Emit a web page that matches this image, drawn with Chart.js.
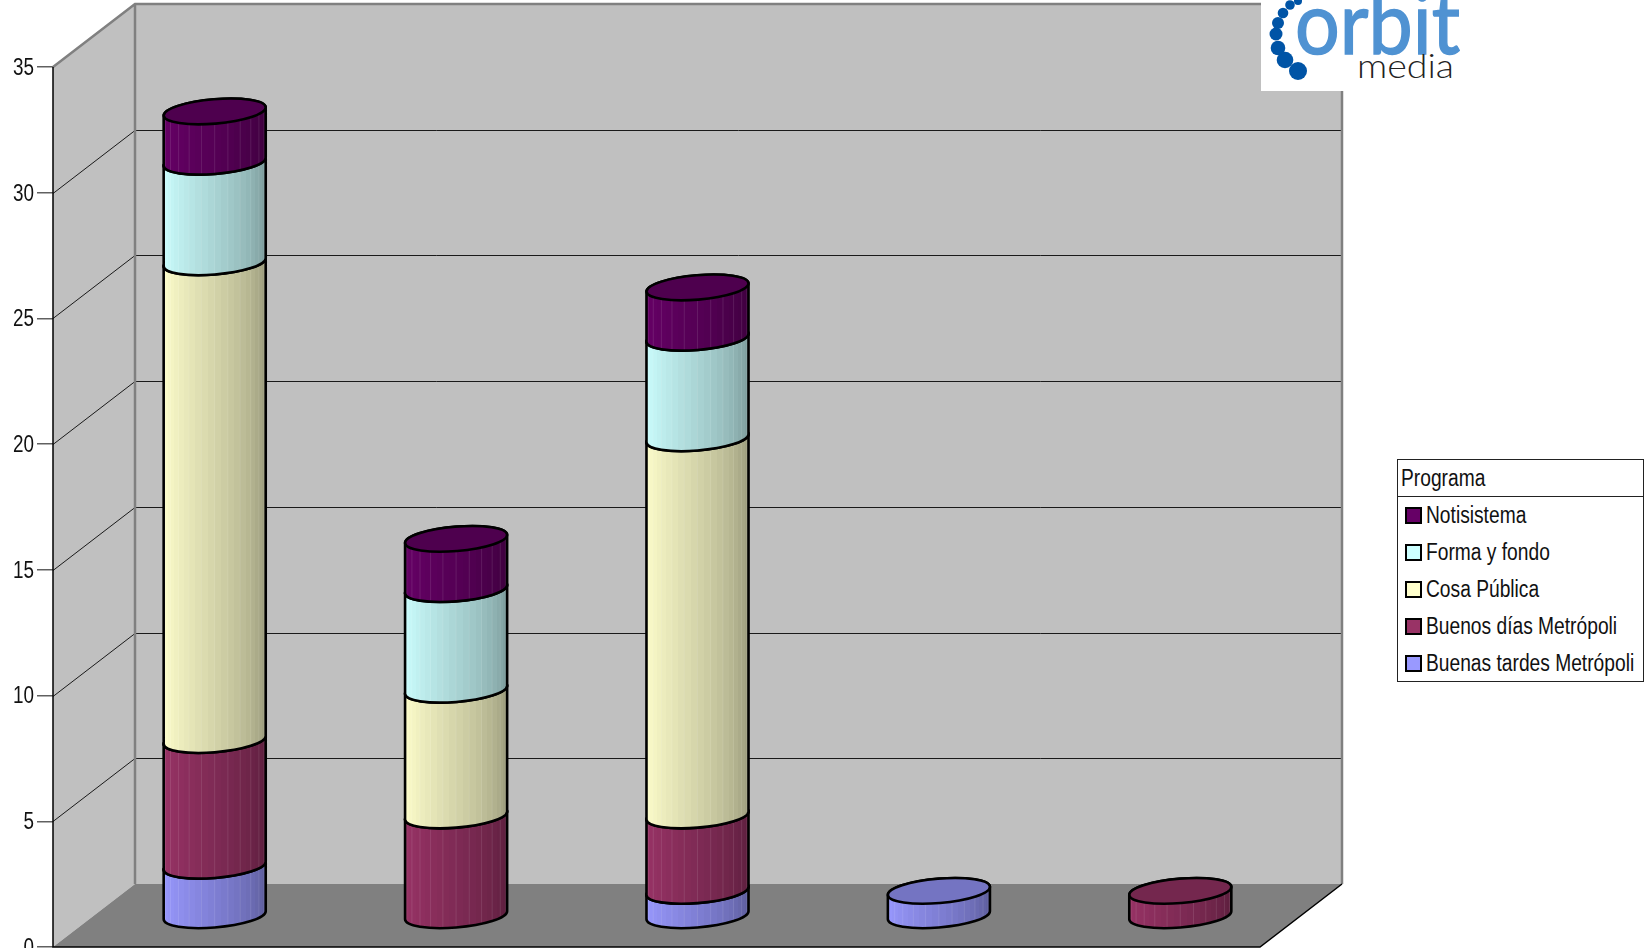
<!DOCTYPE html>
<html>
<head>
<meta charset="utf-8">
<title>Programa</title>
<script src="https://cdn.jsdelivr.net/npm/chart.js@4"></script>
<style>
    html, body { margin: 0; padding: 0; background: #fff; overflow: hidden; }
    #wrap { position: relative; width: 1647px; height: 948px; overflow: hidden; }
    canvas { position: absolute; left: 0; top: 0; }
    #logo { position: absolute; left: 1261px; top: 0; }
    #legend {
        position: absolute; left: 1397px; top: 459px; width: 247px; height: 223px;
        box-sizing: border-box; border: 1px solid #222; background: #fff;
        font: 23px "Liberation Sans", sans-serif; color: #111;
    }
    #legend .head { height: 37px; line-height: 37px; padding-left: 3px; border-bottom: 1px solid #222; box-sizing: border-box; }
    #legend .row { position: relative; height: 37px; line-height: 37px; padding-left: 28px; white-space: nowrap; }
    #legend .txt { display: inline-block; transform: scaleX(0.835); transform-origin: left center; }
    #legend .sw {
        position: absolute; left: 7px; top: 10px; width: 13px; height: 13px;
        border: 2px solid #000;
    }
</style>
</head>
<body>
<div id="wrap">
    <canvas id="chart" width="1647" height="948"></canvas>
    <svg id="logo" width="212" height="91" viewBox="0 0 212 91">
        <rect x="0" y="0" width="202" height="91" fill="#fff"></rect>
        <g fill="#0054a6">
            <circle cx="37" cy="71" r="9"></circle>
            <circle cx="24" cy="60" r="8.3"></circle>
            <circle cx="17" cy="48" r="7.3"></circle>
            <circle cx="15" cy="34" r="6.5"></circle>
            <circle cx="17" cy="23" r="6"></circle>
            <circle cx="22" cy="13" r="5.3"></circle>
            <circle cx="29" cy="5" r="4.8"></circle>
            <circle cx="37" cy="1" r="4"></circle>
        </g>
        <text x="34" y="54" font-family="Lato" font-size="87" fill="#4f92d2" stroke="#4f92d2" stroke-width="1.5" textLength="165" lengthAdjust="spacingAndGlyphs">orbit</text>
        <text x="96" y="78" font-family="Lato" font-weight="300" font-size="33" fill="#222" textLength="97" lengthAdjust="spacingAndGlyphs">media</text>
    </svg>
    <div id="legend"></div>
</div>
<script>
// --- Data ---
const categories = ['1', '2', '3', '4', '5'];
const seriesNames = ['Buenas tardes Metrópoli', 'Buenos días Metrópoli', 'Cosa Pública', 'Forma y fondo', 'Notisistema'];
const buenasTardes = [2, 0, 1, 1, 0];
const buenosDias = [5, 4, 3, 0, 1];
const cosaPublica = [19, 5, 15, 0, 0];
const formaFondo = [4, 4, 4, 0, 0];
const notisistema = [2, 2, 2, 0, 0];
const seriesColors = ['#9999ff', '#993366', '#ffffcc', '#ccffff', '#660066'];
const yTicks = [0, 5, 10, 15, 20, 25, 30, 35];

// --- 3D look ---
const DEPTH_X = 82;
const DEPTH_Y = 63;
const ELLIPSE_RX = 51.2;
const ELLIPSE_RY = 12.2;
const ELLIPSE_ROT = -4.8 * Math.PI / 180;
const FACETS = 24;
const NARROW = 0.82; // no condensed font here, so squeeze the tick labels

function shade(hex, f) {
    const n = parseInt(hex.slice(1), 16);
    const r = Math.round((n >> 16) * f);
    const g = Math.round(((n >> 8) & 255) * f);
    const b = Math.round((n & 255) * f);
    return `rgb(${r},${g},${b})`;
}

// Fill the wall, floor and the gridlines that wrap around them
function drawBox(chart) {
    const { ctx, chartArea: a, scales } = chart;
    const y = scales.y;
    const L = a.left, R = a.right, T = a.top, B = a.bottom;
    const poly = (pts, fill) => {
        ctx.beginPath();
        pts.forEach((p, i) => i ? ctx.lineTo(p[0], p[1]) : ctx.moveTo(p[0], p[1]));
        ctx.closePath();
        ctx.fillStyle = fill;
        ctx.fill();
    };
    poly([[L, T], [L + DEPTH_X, T - DEPTH_Y], [L + DEPTH_X, B - DEPTH_Y], [L, B]], '#c0c0c0');
    poly([[L + DEPTH_X, T - DEPTH_Y], [R + DEPTH_X, T - DEPTH_Y], [R + DEPTH_X, B - DEPTH_Y], [L + DEPTH_X, B - DEPTH_Y]], '#c0c0c0');
    poly([[L + DEPTH_X, B - DEPTH_Y], [R + DEPTH_X, B - DEPTH_Y], [R, B], [L, B]], '#808080');

    // gridlines
    ctx.strokeStyle = '#1a1a1a';
    ctx.lineWidth = 1;
    yTicks.slice(1, -1).forEach(v => {
        const py = Math.round(y.getPixelForValue(v)) + 0.5;
        ctx.beginPath();
        ctx.moveTo(L, py);
        ctx.lineTo(L + DEPTH_X, py - DEPTH_Y);
        ctx.lineTo(R + DEPTH_X, py - DEPTH_Y);
        ctx.stroke();
    });

    // wall borders
    ctx.strokeStyle = '#808080';
    ctx.lineWidth = 2.5;
    ctx.beginPath();
    ctx.moveTo(L, T);
    ctx.lineTo(L + DEPTH_X, T - DEPTH_Y);
    ctx.lineTo(R + DEPTH_X, T - DEPTH_Y);
    ctx.lineTo(R + DEPTH_X, B - DEPTH_Y);
    ctx.moveTo(L + DEPTH_X, T - DEPTH_Y);
    ctx.lineTo(L + DEPTH_X, B - DEPTH_Y);
    ctx.stroke();

    // front edges
    ctx.strokeStyle = '#000';
    ctx.lineWidth = 1.5;
    ctx.beginPath();
    ctx.moveTo(L, T);
    ctx.lineTo(L, B);
    ctx.lineTo(R, B);
    ctx.lineTo(R + DEPTH_X, B - DEPTH_Y);
    ctx.stroke();
}

// One stacked piece: bar element gives x, y and base, the box depth moves it back
function drawCylinder(ctx, el, color) {
    const cx = el.x + DEPTH_X / 2;
    const topY = el.y - DEPTH_Y / 2 + 0.5;
    const baseY = el.base - DEPTH_Y / 2 + 0.5;
    const t0 = Math.atan2(-ELLIPSE_RY * Math.sin(ELLIPSE_ROT), ELLIPSE_RX * Math.cos(ELLIPSE_ROT));
    const halfW = ELLIPSE_RX * Math.cos(t0) * Math.cos(ELLIPSE_ROT) - ELLIPSE_RY * Math.sin(t0) * Math.sin(ELLIPSE_ROT);
    const left = cx - halfW;
    const width = halfW * 2;

    const stops = [];
    for (let k = 0; k <= FACETS; k++) stops.push(Math.min(1, (1 - Math.cos(Math.PI * k / FACETS)) / 2));

    const grad = ctx.createLinearGradient(left, 0, left + width, 0);
    for (let k = 0; k < FACETS; k++) {
        const c = shade(color, 1 - 0.42 * Math.pow(k / (FACETS - 1), 1.3));
        grad.addColorStop(stops[k], c);
        grad.addColorStop(stops[k + 1], c);
    }

    ctx.beginPath();
    ctx.ellipse(cx, baseY, ELLIPSE_RX, ELLIPSE_RY, ELLIPSE_ROT, t0, t0 + Math.PI, false);
    ctx.ellipse(cx, topY, ELLIPSE_RX, ELLIPSE_RY, ELLIPSE_ROT, t0 + Math.PI, t0 + 2 * Math.PI, false);
    ctx.closePath();
    ctx.fillStyle = grad;
    ctx.fill();

    // faint facet seams
    ctx.save();
    ctx.clip();
    ctx.strokeStyle = 'rgba(255,255,255,0.10)';
    ctx.lineWidth = 1;
    stops.forEach((s, k) => {
        if (k % 2) return;
        const ex = left + width * s;
        ctx.beginPath();
        ctx.moveTo(ex, topY - 20);
        ctx.lineTo(ex, baseY + 20);
        ctx.stroke();
    });
    ctx.restore();

    ctx.strokeStyle = '#000';
    ctx.lineWidth = 2.6;
    ctx.beginPath();
    ctx.ellipse(cx, baseY, ELLIPSE_RX, ELLIPSE_RY, ELLIPSE_ROT, t0, t0 + Math.PI, false);
    ctx.ellipse(cx, topY, ELLIPSE_RX, ELLIPSE_RY, ELLIPSE_ROT, t0 + Math.PI, t0 + 2 * Math.PI, false);
    ctx.closePath();
    ctx.stroke();

    // cap, the next piece up paints over it
    ctx.beginPath();
    ctx.ellipse(cx, topY, ELLIPSE_RX, ELLIPSE_RY, ELLIPSE_ROT, 0, 2 * Math.PI);
    ctx.fillStyle = shade(color, 0.76);
    ctx.fill();
    ctx.stroke();
}

const cylinderPlugin = {
    id: 'cylinders',
    beforeDatasetsDraw(chart) {
        const ctx = chart.ctx;
        ctx.save();
        drawBox(chart);
        // bottom piece first so that the upper rims stay visible
        chart.data.datasets.forEach((ds, i) => {
            chart.getDatasetMeta(i).data.forEach((el, j) => {
                if (ds.data[j] > 0) drawCylinder(ctx, el, seriesColors[i]);
            });
        });
        ctx.restore();
        return false;
    }
};

// Squeeze the scale's own labels around their right edge
function narrowLabels(scale) {
    if (scale._narrowed) return;
    scale._narrowed = true;
    const drawLabels = scale.drawLabels;
    scale.drawLabels = function (area) {
        const ctx = this.ctx;
        const pivot = this.right - 19;
        ctx.save();
        ctx.translate(pivot, 1.5);
        ctx.scale(NARROW, 1);
        ctx.translate(-pivot, 0);
        drawLabels.call(this, area);
        ctx.restore();
    };
}

const seriesValues = [buenasTardes, buenosDias, cosaPublica, formaFondo, notisistema];

new Chart(document.getElementById('chart'), {
    type: 'bar',
    data: {
        labels: categories,
        datasets: seriesNames.map((name, i) => ({
            label: name,
            data: seriesValues[i],
            backgroundColor: seriesColors[i],
            categoryPercentage: 1,
            barPercentage: 0.4225
        }))
    },
    plugins: [cylinderPlugin],
    options: {
        responsive: false,
        animation: false,
        layout: { padding: { left: 0, top: 67, right: 387, bottom: 1 } },
        plugins: {
            legend: { display: false },
            tooltip: { enabled: false }
        },
        scales: {
            x: { stacked: true, display: false },
            y: {
                stacked: true,
                min: 0,
                max: 35,
                afterBuildTicks: scale => { scale.ticks = yTicks.map(v => ({ value: v })); },
                afterFit: scale => {
                    scale.width = 53;
                    scale.paddingTop = 0;
                    scale.paddingBottom = 0;
                },
                afterUpdate: narrowLabels,
                border: { display: false },
                grid: { drawOnChartArea: false, drawTicks: true, tickLength: 16, color: '#606060', lineWidth: 1.5 },
                ticks: {
                    padding: 3,
                    color: '#111',
                    font: { family: '"Liberation Sans", sans-serif', size: 23 }
                }
            }
        }
    }
});

// --- Legend box, in the same top-down order as the stack ---
const legendEl = document.getElementById('legend');
legendEl.innerHTML = '<div class="head"><span class="txt">Programa</span></div>';
seriesNames.slice().reverse().forEach((name, i) => {
    const row = document.createElement('div');
    row.className = 'row';
    const sw = document.createElement('span');
    sw.className = 'sw';
    sw.style.backgroundColor = seriesColors[seriesNames.length - 1 - i];
    const txt = document.createElement('span');
    txt.className = 'txt';
    txt.textContent = name;
    row.appendChild(sw);
    row.appendChild(txt);
    legendEl.appendChild(row);
});
</script>
</body>
</html>
